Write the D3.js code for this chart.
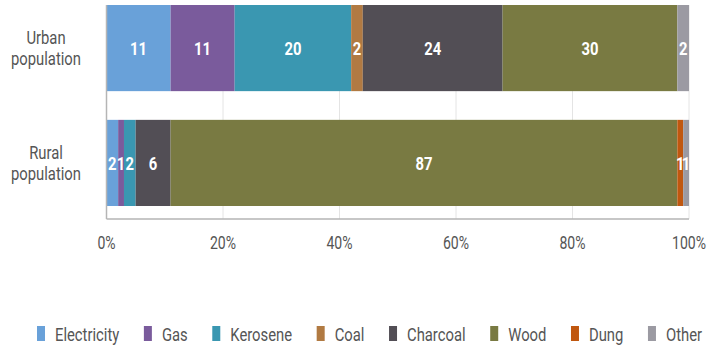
<!DOCTYPE html>
<html><head><meta charset="utf-8">
<script src="https://cdn.jsdelivr.net/npm/d3@7"></script>
<style>
body{margin:0;background:#fff;}
text{font-family:"Roboto","Liberation Sans",sans-serif;}
</style></head>
<body><svg id="c" width="708" height="348"></svg>
<script>
const categories = ["Urban population", "Rural population"];
const fuels = ["Electricity","Gas","Kerosene","Coal","Charcoal","Wood","Dung","Other"];
const urbanValues = [11, 11, 20, 2, 24, 30, 0, 2];
const ruralValues = [2, 1, 2, 0, 6, 87, 1, 1];
const colors = ["#69a1d9","#7a5b9c","#3a97b1","#b17a42","#524e55","#797a42","#c0570f","#9b9aa2"];
const xTicks = [0, 20, 40, 60, 80, 100];

const svg = d3.select("#c");
const plotLeft = 106.5, plotRight = 689, plotTop = 5, plotBottom = 206, axisY = 219;
const SX = 0.78; // horizontal condense factor for the narrow typeface

function addText(parent, px, py, str, opts) {
  const t = parent.append("text")
    .attr("transform", `translate(${px},${py}) scale(${SX},1)`)
    .attr("dy", "0.36em")
    .attr("text-anchor", opts.anchor || "middle")
    .attr("fill", opts.fill || "#555")
    .attr("font-size", opts.size || 18)
    .attr("font-weight", opts.weight || "normal")
    .text(str);
  return t;
}

const rows = categories.map((c, i) => {
  const vals = i === 0 ? urbanValues : ruralValues;
  const o = {cat: c};
  fuels.forEach((f, j) => o[f] = vals[j]);
  return o;
});
const stack = d3.stack().keys(fuels)(rows);

const x = d3.scaleLinear().domain([0, 100]).range([plotLeft, plotRight]);
const y = d3.scaleBand().domain(categories).range([plotTop, plotBottom]).paddingInner(0.25).paddingOuter(0);
const color = d3.scaleOrdinal().domain(fuels).range(colors);

// gridlines
svg.append("g").selectAll("line").data(xTicks.slice(1)).join("line")
  .attr("x1", d => x(d)).attr("x2", d => x(d))
  .attr("y1", plotTop).attr("y2", axisY)
  .attr("stroke", "#e4e4e4").attr("stroke-width", 1);

// bars
const layers = svg.append("g").selectAll("g").data(stack).join("g")
  .attr("fill", d => color(d.key));
layers.selectAll("rect").data(d => d).join("rect")
  .attr("x", d => x(d[0]))
  .attr("width", d => x(d[1]) - x(d[0]))
  .attr("y", d => y(d.data.cat))
  .attr("height", y.bandwidth());

// value labels
const lbl = svg.append("g");
stack.forEach(layer => {
  layer.forEach(d => {
    const v = d[1] - d[0];
    if (v <= 0) return;
    addText(lbl, x((d[0] + d[1]) / 2), y(d.data.cat) + y.bandwidth() / 2, v,
      {fill: "#fff", weight: "bold", size: 19});
  });
});

// axes lines
svg.append("line").attr("x1", plotLeft).attr("x2", plotLeft).attr("y1", plotTop).attr("y2", axisY)
  .attr("stroke", "#b5b5b5").attr("stroke-width", 1.5);
svg.append("line").attr("x1", plotLeft).attr("x2", plotRight).attr("y1", axisY).attr("y2", axisY)
  .attr("stroke", "#b5b5b5").attr("stroke-width", 1.5);

// x tick labels
const tg = svg.append("g");
xTicks.forEach(d => addText(tg, x(d), 243, d + "%", {size: 18}));

// y labels
const yg = svg.append("g");
categories.forEach(c => {
  const words = c.split(" ");
  const cy = y(c) + y.bandwidth() / 2;
  words.forEach((w, k) => addText(yg, 46, cy + (k - 0.5) * 21, w, {size: 19}));
});

// legend
const lg = svg.append("g");
const items = fuels.map((f, i) => {
  const g = lg.append("g");
  g.append("rect").attr("width", 8).attr("height", 15).attr("y", 326).attr("fill", colors[i]);
  const t = addText(g, 18, 334, f, {size: 19, anchor: "start"});
  return {g, w: 18 + t.node().getComputedTextLength() * SX};
});
const startX = 37, endX = 702;
const totalW = d3.sum(items, d => d.w);
const gap = (endX - startX - totalW) / (items.length - 1);
let cx = startX;
items.forEach(it => { it.g.attr("transform", `translate(${cx},0)`); cx += it.w + gap; });
</script></body></html>
